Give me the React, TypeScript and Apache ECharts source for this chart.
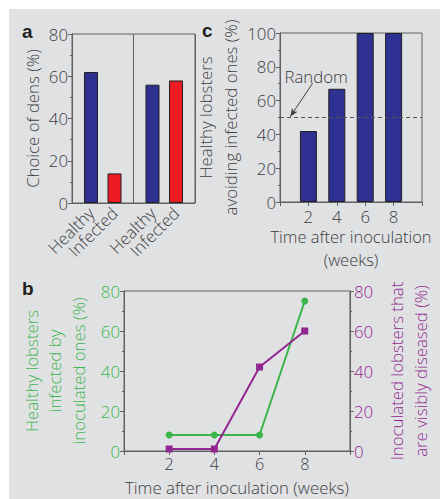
import React, { useEffect, useRef } from "react";
import * as echarts from "echarts";

// ---- Data ----
// Panel a: choice of dens (%)
const denGroups = ["Trial 1", "Trial 2"];
const denHealthy = [62, 56];
const denInfected = [14, 58];
const denSeriesNames = ["Healthy", "Infected"];

// Panel b: time course
const weeksB = [2, 4, 6, 8];
const healthyInfectedPct = [8, 8, 8, 75];
const inoculatedDiseasedPct = [1, 1, 42, 60];

// Panel c: avoidance
const weeksC = [2, 4, 6, 8];
const avoidingPct = [42, 67, 100, 100];
const randomLevel = 50;
// annotation anchor points (data space) for the "Random" arrow
const randomLabelPoint = [2.55, 74.5];
const randomArrowStart = [2.3, 70.3];
const randomArrowEnd = [0.73, 50.6];

const FONT = "'Open Sans', 'Noto Sans', sans-serif";
const FS = 16.8;
const FW = 300;
const TEXT = "#3d3d3f";
const AXIS = "#5f6063";
const NAVY = "#2e3192";
const RED = "#ed1c24";
const GREEN = "#39b54a";
const PURPLE = "#92278f";
const BG = "#e0e1e3";

const txt = (color: string, extra: any = {}) => ({
  fontSize: FS,
  color,
  fontFamily: FONT,
  fontWeight: FW,
  ...extra,
});

function valueYAxis(grid: number, max: number, color: string, extra: any = {}) {
  return {
    type: "value",
    gridIndex: grid,
    min: 0,
    max,
    interval: 20,
    axisLine: { show: true, lineStyle: { color: AXIS, width: 1 } },
    axisTick: { show: true, inside: false, length: 4, lineStyle: { color: AXIS } },
    minorTick: { show: true, splitNumber: 2, length: 2, lineStyle: { color: AXIS } },
    splitLine: { show: false },
    axisLabel: txt(color, { margin: 4, lineHeight: 16 }),
    nameLocation: "middle",
    nameRotate: 90,
    nameTextStyle: txt(color),
    ...extra,
  };
}

function weekXAxis(grid: number, labelSize: number, labelMargin: number, extra: any = {}) {
  return {
    type: "value",
    gridIndex: grid,
    min: 0,
    max: 10,
    interval: 2,
    axisLine: { show: true, onZero: false, lineStyle: { color: AXIS, width: 1 } },
    axisTick: { show: true, inside: false, length: 4, lineStyle: { color: AXIS } },
    splitLine: { show: false },
    axisLabel: txt(TEXT, {
      fontSize: labelSize,
      margin: labelMargin,
      lineHeight: 16,
      formatter: (v: number) => (v === 0 || v === 10 ? "" : String(v)),
    }),
    nameLocation: "middle",
    nameTextStyle: txt(TEXT),
    ...extra,
  };
}

export default function App() {
  const ref = useRef<HTMLDivElement>(null);
  useEffect(() => {
    if (!ref.current) return;
    const chart = echarts.init(ref.current, undefined, { renderer: "svg" });
    const gridStyle = {
      show: true,
      borderColor: AXIS,
      borderWidth: 1,
      backgroundColor: "transparent",
      containLabel: false,
    };
    const barLabel = {
      show: true,
      position: "bottom",
      distance: 7,
      rotate: 45,
      align: "right",
      verticalAlign: "middle",
      formatter: "{a}",
      ...txt(TEXT, { lineHeight: 16 }),
    };
    const letterFont = "bold 19px 'Liberation Sans', Arial, sans-serif";
    const option: any = {
      animation: false,
      backgroundColor: "#ffffff",
      textStyle: { fontFamily: FONT },
      graphic: [
        {
          type: "rect",
          left: 9,
          top: 9,
          shape: { width: 431, height: 490 },
          style: { fill: BG },
          z: -100,
          silent: true,
        },
        { type: "text", left: 22, top: 22, style: { text: "a", font: letterFont, fill: "#231f20" } },
        { type: "text", left: 22, top: 279, style: { text: "b", font: letterFont, fill: "#231f20" } },
        { type: "text", left: 202, top: 21, style: { text: "c", font: letterFont, fill: "#231f20" } },
      ],
      grid: [
        { ...gridStyle, left: 72, top: 34, width: 123, height: 169 },
        { ...gridStyle, left: 124, top: 291, width: 229, height: 160 },
        { ...gridStyle, left: 280, top: 33, width: 142, height: 169 },
      ],
      xAxis: [
        {
          type: "category",
          gridIndex: 0,
          data: denGroups,
          axisLine: { show: true, lineStyle: { color: AXIS } },
          axisTick: { show: false },
          axisLabel: { show: false },
          splitLine: { show: true, lineStyle: { color: AXIS, width: 1 } },
        },
        weekXAxis(1, 16.2, 5, {
          name: "Time after inoculation (weeks)",
          nameGap: 27,
          nameTextStyle: txt(TEXT, { lineHeight: 18 }),
        }),
        weekXAxis(2, FS, 6, {
          name: "Time after inoculation\n(weeks)",
          nameGap: 23.5,
          nameTextStyle: txt(TEXT, { fontSize: 16.5, lineHeight: 22.5 }),
        }),
      ],
      yAxis: [
        valueYAxis(0, 80, TEXT, { name: "Choice of dens (%)", nameGap: 31 }),
        valueYAxis(1, 80, GREEN, {
          name: "Healthy lobsters\ninfected by\ninoculated ones (%)",
          nameGap: 21,
          nameTextStyle: txt(GREEN, { lineHeight: 23.5 }),
        }),
        valueYAxis(1, 80, PURPLE, {
          position: "right",
          name: "Inoculated lobsters that\nare visibly diseased (%)",
          nameGap: 33,
          nameTextStyle: txt(PURPLE, { lineHeight: 24 }),
        }),
        valueYAxis(2, 100, TEXT, {
          name: "Healthy lobsters\navoiding infected ones (%)",
          nameGap: 31,
          nameTextStyle: txt(TEXT, { lineHeight: 25 }),
        }),
      ],
      series: [
        {
          type: "bar",
          name: denSeriesNames[0],
          xAxisIndex: 0,
          yAxisIndex: 0,
          data: denHealthy,
          barWidth: 14,
          barGap: "68%",
          itemStyle: { color: NAVY, borderColor: "#231f20", borderWidth: 1 },
          label: barLabel,
        },
        {
          type: "bar",
          name: denSeriesNames[1],
          xAxisIndex: 0,
          yAxisIndex: 0,
          data: denInfected,
          barWidth: 14,
          itemStyle: { color: RED, borderColor: "#231f20", borderWidth: 1 },
          label: barLabel,
        },
        {
          type: "line",
          name: "Healthy infected",
          xAxisIndex: 1,
          yAxisIndex: 1,
          data: weeksB.map((w, i) => [w, healthyInfectedPct[i]]),
          symbol: "circle",
          symbolSize: 7,
          lineStyle: { color: GREEN, width: 2 },
          itemStyle: { color: GREEN },
        },
        {
          type: "line",
          name: "Inoculated diseased",
          xAxisIndex: 1,
          yAxisIndex: 2,
          data: weeksB.map((w, i) => [w, inoculatedDiseasedPct[i]]),
          symbol: "rect",
          symbolSize: 7,
          lineStyle: { color: PURPLE, width: 2 },
          itemStyle: { color: PURPLE },
        },
        {
          type: "bar",
          name: "Avoiding",
          xAxisIndex: 2,
          yAxisIndex: 3,
          data: weeksC.map((w, i) => [w, avoidingPct[i]]),
          barWidth: 17,
          itemStyle: { color: NAVY, borderColor: "#231f20", borderWidth: 1 },
          markLine: {
            silent: true,
            animation: false,
            symbol: ["none", "none"],
            data: [
              [
                { coord: randomArrowStart },
                { coord: randomArrowEnd, symbol: "arrow", symbolSize: [5, 8] },
              ],
              {
                yAxis: randomLevel,
                lineStyle: { type: [4, 3], color: "#555557", width: 1 },
              },
            ],
            lineStyle: { color: "#3d3d3f", width: 1, type: "solid" },
            label: { show: false },
          },
          markPoint: {
            silent: true,
            symbol: "circle",
            symbolSize: 1,
            itemStyle: { color: "transparent" },
            data: [{ coord: randomLabelPoint, value: "Random" }],
            label: { show: true, position: "inside", formatter: "Random", ...txt(TEXT) },
          },
        },
      ],
    };
    chart.setOption(option);
    return () => chart.dispose();
  }, []);
  return (
    <div
      ref={ref}
      style={{ position: "absolute", left: 0, top: 0, width: 440, height: 499 }}
    />
  );
}
